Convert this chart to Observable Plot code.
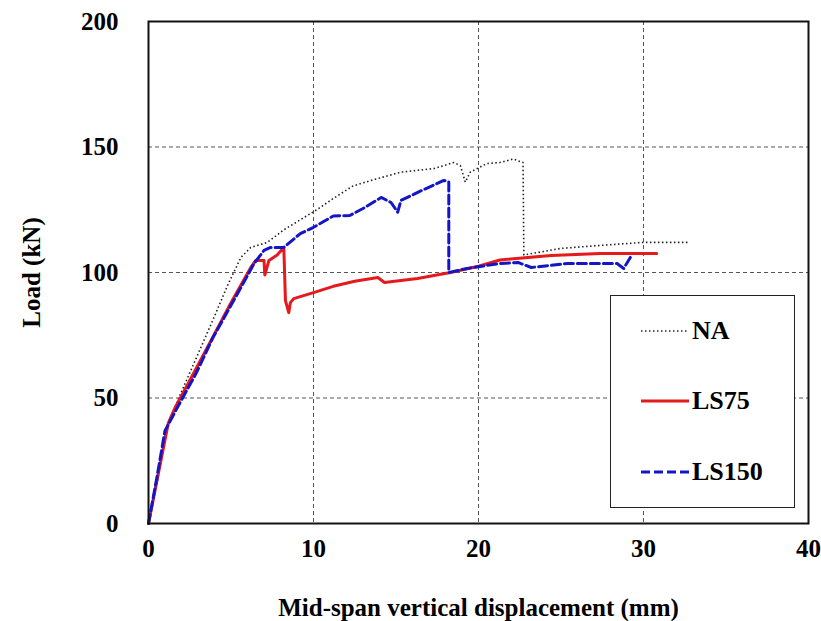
<!DOCTYPE html>
<html>
<head>
<meta charset="utf-8">
<script src="https://cdn.jsdelivr.net/npm/d3@7"></script>
<script src="https://cdn.jsdelivr.net/npm/@observablehq/plot@0.6"></script>
<style>
  html, body { margin: 0; padding: 0; background: #fff; }
  #wrap { position: relative; width: 821px; height: 621px; }
  #legend {
    position: absolute; left: 610px; top: 295px; width: 183px; height: 211px;
    border: 1.5px solid #222; background: #fff;
    font-family: "Liberation Serif", "Times New Roman", serif; font-weight: bold; font-size: 26px; color: #000;
  }
  .row { position: absolute; left: 28px; display: flex; align-items: center; }
  .row svg { margin-right: 1px; }
</style>
</head>
<body>
<div id="wrap"></div>
<script>
// ---- data ----
const seriesNames = ["NA", "LS75", "LS150"];

const naX = [0, 0.6, 1.15, 1.9, 2.9, 3.9, 4.8, 5.6, 6.2, 7.2, 8.2, 9.2, 10.2, 11.2, 11.8, 12.4, 13.5, 15.3, 17.3, 18.5, 18.9, 19.2, 19.5, 20.5, 21.3, 22.1, 22.7, 22.75, 25, 27.4, 30, 32.7];
const naY = [0, 19, 39, 51, 66, 81, 95, 106, 110, 112, 117, 121, 125, 129.5, 132, 134.5, 136.7, 140, 141.4, 143.8, 142.6, 136, 140, 143.4, 143.8, 145.2, 143.8, 107, 109.6, 110.8, 112, 112];

const ls75X = [0, 0.6, 1.2, 1.6, 2.5, 3.8, 5, 6.2, 6.5, 7, 7.05, 7.3, 7.8, 8.2, 8.3, 8.5, 8.6, 8.8, 10, 11.2, 12.5, 13.9, 14.3, 16.3, 18.3, 20, 21.3, 24.4, 27.4, 30.8];
const ls75Y = [0, 20, 40, 46, 57, 73, 88, 102, 104.8, 104.8, 99, 104.8, 107, 110, 88.8, 84, 88, 89.6, 92, 94.5, 96.5, 98, 96, 97.6, 100, 102.5, 105, 106.8, 107.6, 107.6];

const ls150X = [0, 0.5, 1.0, 1.9, 2.9, 3.9, 5.6, 6.4, 7, 7.4, 8.2, 9.2, 10, 11.2, 12.2, 13, 14.1, 14.7, 15.1, 15.3, 16.5, 17.9, 18.2, 18.2, 19.3, 21.3, 22.4, 23.2, 25.4, 28.4, 28.8, 29.2];
const ls150Y = [0, 18, 37, 48, 60, 74, 94, 103.6, 108.8, 110, 110, 115.5, 118, 122.5, 122.7, 125.5, 129.9, 127.9, 124, 128.7, 132.5, 136.7, 136, 100, 101.6, 103.6, 104, 102, 103.6, 103.6, 101.6, 106];

const xTicks = [0, 10, 20, 30, 40];
const yTicks = [0, 50, 100, 150, 200];
const xGrid = [10, 20, 30];
const yGrid = [50, 100, 150];

// ---- build tables ----
const toRows = (xs, ys) => xs.map((x, i) => ({x, y: ys[i]}));
const na = toRows(naX, naY);
const ls75 = toRows(ls75X, ls75Y);
const ls150 = toRows(ls150X, ls150Y);

const serif = '"Liberation Serif", "Times New Roman", serif';

const chart = Plot.plot({
  width: 821,
  height: 621,
  marginLeft: 148,
  marginRight: 13,
  marginTop: 21,
  marginBottom: 98,
  x: {domain: [0, 40]},
  y: {domain: [0, 200]},
  style: {fontFamily: serif, fontWeight: "bold", fontSize: "25px", color: "#000", background: "#fff"},
  marks: [
    Plot.gridX(xGrid, {stroke: "#555", strokeOpacity: 1, strokeDasharray: "4,3", strokeWidth: 1}),
    Plot.gridY(yGrid, {stroke: "#555", strokeOpacity: 1, strokeDasharray: "4,3", strokeWidth: 1}),
    Plot.axisX(xTicks, {tickSize: 0, tickPadding: 16, fontSize: 25, label: "Mid-span vertical displacement (mm)", labelAnchor: "center", labelArrow: "none", labelOffset: 92}),
    Plot.axisY(yTicks, {tickSize: 0, tickPadding: 30, fontSize: 25, label: "Load (kN)", labelAnchor: "center", labelArrow: "none", labelOffset: 126}),
    Plot.line(na, {x: "x", y: "y", stroke: "#222", strokeWidth: 1.6, strokeDasharray: "1.5,2.5", strokeLinecap: "butt"}),
    Plot.line(ls75, {x: "x", y: "y", stroke: "#e41a1c", strokeWidth: 3}),
    Plot.line(ls150, {x: "x", y: "y", stroke: "#1515c8", strokeWidth: 3, strokeDasharray: "9,4"}),
    Plot.frame({stroke: "#111", strokeWidth: 2})
  ]
});

const wrap = document.getElementById("wrap");
wrap.appendChild(chart);

// ---- legend ----
const legendStyles = [
  {stroke: "#222", width: 1.6, dash: "1.5,2.5", top: 37},
  {stroke: "#e41a1c", width: 3, dash: null, top: 107},
  {stroke: "#1515c8", width: 3, dash: "9,4", top: 178}
];
const legend = document.createElement("div");
legend.id = "legend";
seriesNames.forEach((name, i) => {
  const s = legendStyles[i];
  const row = document.createElement("div");
  row.className = "row";
  row.style.top = (s.top - 17) + "px";
  row.innerHTML = `<svg width="52" height="10"><line x1="2" y1="5" x2="50" y2="5" stroke="${s.stroke}" stroke-width="${s.width}" ${s.dash ? `stroke-dasharray="${s.dash}"` : ""}/></svg><span>${name}</span>`;
  legend.appendChild(row);
});
wrap.appendChild(legend);
</script>
</body>
</html>
